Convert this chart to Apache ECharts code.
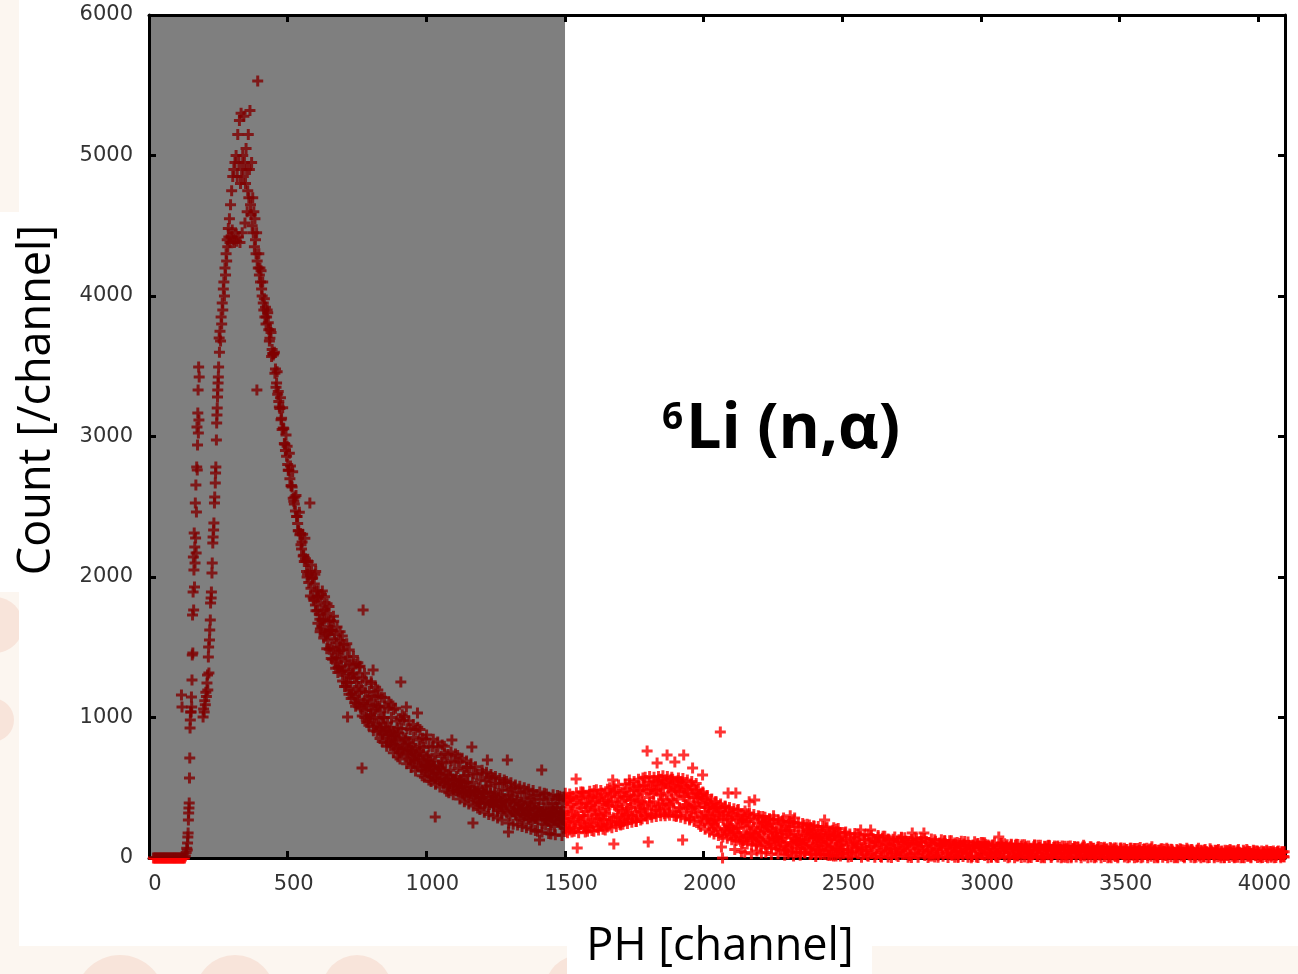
<!DOCTYPE html>
<html>
<head>
<meta charset="utf-8">
<script src="https://cdn.jsdelivr.net/npm/echarts@6/dist/echarts.min.js"></script>
<style>
html,body{margin:0;padding:0;background:#fff;}
#chart{width:1298px;height:974px;}
</style>
</head>
<body>
<div id="chart"></div>
<script>
// ---- axis ranges / ticks ----
const xRange = [0, 4096];
const yRange = [0, 6000];
const xTickStep = 500;
const yTickStep = 1000;
const shadeRange = [0, 1500];   // shaded (gray) channel range

// ---- low channel region: explicit [channel, count] pairs ----
const lowRegion = [
  [16,0],[20,0],[24,0],[28,0],[32,0],[36,0],[40,0],[44,0],[48,0],[52,0],[56,0],[60,0],[64,0],[68,0],[72,0],
  [76,0],[80,0],[84,0],[88,0],[92,0],[96,0],[100,0],[104,0],[108,0],[112,0],[116,0],[120,0],[124,0],[128,0],
  [117,1160],[119,1075],
  [131,15],[134,40],[136,70],[138,57],[139,107],[140,150],[141,178],[142,270],[143,320],[144,356],[145,391],
  [146,569],[147,712],[148,925],[149,982],[150,1039],
  [152,1039],[153,1146],[154,1075],[155,1267],[156,1445],[157,1730],[158,1459],[159,1893],[160,2142],[161,1765],
  [162,2050],[163,2313],[164,1929],[165,2213],[166,2100],[167,2527],[168,2277],[169,2655],[170,2171],[171,2463],
  [172,2783],[173,3068],[174,2762],[175,2940],[176,3167],[177,3331],[178,3025],[179,3495],[180,3117],[181,3423],
  [195,1003],[197,1060],[199,1039],[201,1120],[203,1090],[205,1180],[207,1150],[209,1246],[211,1303],[212,1196],
  [214,1431],[215,1502],[216,1317],[218,1552],[219,1623],[221,1694],[222,1815],[224,1851],[225,1893],[227,2028],
  [228,2100],[230,2242],[231,2285],[233,2335],[234,2384],[236,2527],[237,2569],[239,2669],[240,2740],[241,2783],
  [243,2975],[244,3096],[245,3153],[246,3203],[247,3281],[248,3331],[249,3381],[250,3423],[251,3495],[253,3701],
  [389,3331]
];

// ---- main peak: channels 254..418, every 2nd channel ----
const peakStart = 254, peakStep = 2;
const peakCounts = [
  3600,3750,3680,3850,3800,3950,3900,4050,4100,4000,
  4200,4150,4300,4250,4400,4350,4480,4420,4550,4380,
  4650,4420,4750,4470,4850,4400,4900,4380,4950,4450,
  5000,4390,4850,5150,4420,4950,5250,4380,4800,5300,
  4900,4450,5000,4850,5280,4950,4520,4800,5050,4900,
  4600,4750,5150,4700,4900,5320,4650,4580,4950,4500,
  4700,4450,4600,4350,4550,4400,4300,4450,4250,5530,
  4200,4300,4150,4200,4100,4180,4050,4000,4100,3950,
  3900,3980,3850
];

// ---- decay: channels 420..1496 (every 4th) ----
const decayStart = 420, decayStep = 4;
const decayCounts = [
  3920,3850,3880,3760,3700,3740,3620,3580,3600,3480,
  3380,3300,3250,3200,3120,3050,3060,2950,2900,2860,
  2800,2760,2700,2650,2640,2560,2520,2470,2430,2380,
  2330,2300,2230,2250,2150,2110,2130,2040,2020,1960,
  2527,1920,1990,1850,1950,1800,1900,1760,1860,1700,
  1820,1650,1760,1700,1600,1740,1550,1680,1620,1500,
  1620,1480,1560,1400,1530,1460,1350,1500,1420,1330,
  1480,1300,1400,1250,1003,1330,1380,1200,1310,1180,
  1280,1150,1250,1100,1220,1180,1060,640,1765,1120,
  1180,1050,1130,990,1100,1020,1150,1338,1000,1060,
  950,1080,990,920,1040,960,880,1000,930,870,
  960,880,820,930,860,900,800,870,840,780,
  890,820,1253,760,860,800,840,1075,740,820,
  790,720,810,760,690,780,730,1032,700,760,
  700,650,740,680,620,720,660,700,610,680,
  640,600,690,292,620,560,660,600,640,570,
  620,540,600,560,510,590,530,580,840,520,
  560,500,580,520,470,550,490,540,460,530,
  500,470,540,450,510,480,790,249,430,490,
  460,420,500,440,390,480,430,460,400,470,
  697,420,380,460,410,440,370,450,400,360,
  430,390,450,370,410,340,420,380,697,185,
  400,350,420,330,390,360,300,410,340,380,
  320,390,350,300,370,330,400,310,350,290,
  370,320,350,280,340,300,360,128,330,626,
  310,350,280,330,300,260,340,290,320,270,
  330,280,310,350,260,300,320,240,310,280
];
// ---- decay: channels 422..1498 (every 4th, interleaved) ----
const decayStartB = 422, decayStepB = 4;
const decayCountsB = [
  3800,3900,3810,3680,3760,3570,3590,3590,3450,3350,
  3460,3320,3210,3275,3130,3205,3055,2945,3010,2930,
  2760,2880,2790,2650,2750,2540,2570,2580,2430,2330,
  2460,2310,2200,2305,2155,2275,2110,2000,2110,2040,
  1865,2085,1995,1835,2020,1760,1855,1900,1735,1630,
  1875,1690,1565,1770,1585,1810,1610,1485,1690,1625,
  1415,1685,1590,1425,1645,1360,1475,1550,1365,1260,
  1520,1340,1220,1430,1250,1480,1285,1165,1375,1315,
  1105,1380,1290,1130,1360,1075,1200,1280,1100,1000,
  1260,1085,970,1185,1010,1240,1050,935,1150,1095,
  900,1160,1080,930,1145,885,1000,1075,910,820,
  1065,905,800,1000,840,1055,880,775,975,925,
  750,990,920,780,980,740,850,920,770,690,
  915,765,670,857,708,910,748,651,840,795,
  630,852,786,661,847,626,728,795,657,580,
  791,654,564,739,601,788,638,549,723,681,
  525,740,677,558,737,526,624,690,558,485,
  683,558,476,637,511,683,546,465,625,588,
  440,645,586,472,644,442,537,599,474,405,
  598,474,393,555,431,603,468,388,549,513,
  365,571,513,400,573,372,468,531,407,338,
  528,404,324,486,362,535,400,320,482,446,
  300,497,443,336,502,311,404,465,347,282,
  464,346,271,426,309,475,347,272,427,393,
  255,444,392,291,449,268,356,415,303,242,
  420,309,237,386,274,433,311,240,388,357,
  225,414,363,262,421,240,329,388,277,216
];
// ---- decay: channels 601..1497 (every 8th, odd channels) ----
const decayStartC = 601, decayStepC = 8;
const decayCountsC = [
  2040,1670,1610,1900,1860,1490,1790,1420,1720,1350,
  1320,1610,1580,1220,1525,1165,1135,1435,1080,1390,
  1365,1010,1315,965,945,1255,905,1215,1195,850,
  830,1140,795,1110,1095,750,1065,720,705,1020,
  1005,670,975,645,950,620,930,915,585,575,
  875,555,545,845,525,825,505,805,795,475,
  465,755,450,740,730,420,710,400,690,385,
  670,370,650,355,345,625,325,610,310,595,
  300,580,285,565,270,555,545,250,535,240,
  520,235,510,225,500,215,490,205,480,195,
  190,470,185,460,455,175,170,450,165,445,
  440,160,435
];

// ---- second bump: channels 1500..2496 (every 4th) ----
const bumpStart = 1500, bumpStep = 4;
const bumpCounts = [
  330,250,410,290,200,380,310,440,260,350,
  562,71,300,420,240,360,470,280,330,210,
  390,300,450,250,340,400,190,360,310,430,
  280,380,230,460,330,270,410,350,220,390,
  300,440,260,555,100,370,480,290,350,420,
  250,400,330,470,290,380,440,310,555,360,
  420,300,480,370,260,450,390,510,330,400,
  460,350,520,300,762,114,430,490,370,540,
  400,480,340,676,520,380,460,560,420,500,
  350,540,733,450,380,520,470,560,400,683,
  490,420,550,360,470,520,128,733,440,500,
  380,460,400,520,350,640,430,370,480,320,
  420,360,450,300,590,390,330,410,280,360,
  300,380,250,340,270,320,220,360,260,300,
  897,78,0,280,200,320,240,462,190,270,
  230,300,180,60,462,210,280,160,250,45,
  270,180,40,150,220,260,400,170,30,140,
  210,413,160,50,190,130,220,35,250,150,
  200,40,230,170,110,210,25,190,300,130,
  180,150,30,120,170,200,140,285,20,110,
  190,30,170,300,150,100,15,285,140,120,
  160,110,20,130,90,170,40,120,190,100,
  150,25,170,80,140,160,10,130,60,150,
  120,170,30,140,270,90,130,20,160,70,
  140,100,15,160,80,130,30,150,60,120
];
// ---- second bump: channels 1502..2498 (every 4th, interleaved) ----
const bumpStartB = 1502, bumpStepB = 4;
const bumpCountsB = [
  210,419,364,254,430,232,331,397,276,210,
  413,292,215,380,259,435,303,226,391,358,
  220,429,374,264,440,242,341,407,286,220,
  428,307,230,395,274,450,318,241,406,373,
  240,459,401,286,470,263,367,436,309,240,
  467,341,260,433,306,490,352,272,444,410,
  280,499,441,326,510,303,407,476,349,280,
  516,384,300,480,348,540,396,312,492,456,
  315,543,483,363,555,339,447,519,387,315,
  536,404,320,500,368,560,416,332,512,476,
  305,533,473,353,545,329,437,509,377,305,
  487,361,280,453,326,510,372,292,464,430,
  240,449,394,284,460,262,361,427,306,240,
  380,270,200,350,240,400,280,210,360,330,
  165,355,305,205,365,185,275,335,225,165,
  320,210,140,290,180,340,220,150,300,270,
  125,305,258,163,315,144,230,287,182,125,
  276,172,105,248,143,295,181,115,257,229,
  95,266,221,131,275,113,194,248,149,95,
  242,143,80,215,116,260,152,89,224,197,
  70,241,196,106,250,88,169,223,124,70,
  218,125,65,193,99,235,133,74,201,176,
  55,217,174,89,225,72,149,200,106,55,
  196,108,52,172,84,212,116,60,180,156,
  45,197,157,77,205,61,133,181,93,45
];
// ---- second bump: channels 1501..2493 (every 8th, odd channels) ----
const bumpStartC = 1501, bumpStepC = 8;
const bumpCountsC = [
  460,180,455,185,190,465,180,470,465,185,
  190,475,195,480,485,200,480,205,200,490,
  500,215,510,225,520,235,240,525,245,530,
  255,545,260,560,270,570,575,280,580,290,
  575,295,580,300,585,300,580,305,575,300,
  295,570,290,565,280,555,270,545,260,530,
  490,225,470,205,445,185,420,170,400,160,
  385,150,370,140,360,130,350,125,345,120,
  105,335,100,320,95,310,90,300,85,295,
  290,75,280,70,275,65,270,60,265,55,
  50,260,45,255,40,250,40,245,35,240,
  235,30,230,30,225,25,225,25,220,20,
  20,215,15,210,15
];

// ---- tail: channels 2500..4090 (every 6th) ----
const tailStart = 2500, tailStep = 6;
const tailCounts = [
  110,60,185,95,30,140,80,120,45,100,
  90,200,55,130,70,20,110,200,85,40,
  120,75,95,10,140,60,100,50,130,85,
  70,115,40,90,130,60,25,105,80,55,
  120,65,178,90,30,100,70,115,50,178,
  85,40,110,60,15,95,120,70,45,100,
  60,105,35,80,95,50,20,90,70,110,
  55,85,30,100,65,40,90,75,10,85,
  60,100,45,80,25,70,95,50,85,35,
  90,60,20,75,150,55,85,40,70,95,
  45,80,30,65,90,15,70,50,95,40,
  75,55,85,25,60,80,45,10,70,90,
  50,30,80,65,90,40,20,75,55,80,
  35,60,85,45,5,70,50,85,30,65,
  75,40,55,20,70,90,45,60,30,80,
  50,70,15,60,80,35,55,70,25,65,
  45,75,30,60,10,55,40,70,35,50,
  20,60,45,70,35,55,65,5,50,75,
  40,60,25,70,50,30,80,45,60,15,
  55,35,65,45,20,70,50,30,60,40,
  25,60,45,65,35,10,55,70,30,50,
  60,40,20,55,70,35,50,10,60,45,
  30,65,45,25,55,40,60,15,50,35,
  55,20,45,60,30,50,5,40,60,35,
  25,55,40,60,15,45,30,55,20,50,
  35,10,50,40,25,55,30,45,15,50,
  40,20,50,30,45,10
];
// ---- tail: channels 2503..4093 (every 6th, interleaved) ----
const tailStartB = 2503, tailStepB = 6;
const tailCountsB = [
  30,163,128,58,170,44,107,149,72,30,
  151,74,25,130,53,165,81,32,137,116,
  25,149,116,51,155,38,97,136,64,25,
  133,64,21,114,46,145,71,27,120,102,
  17,131,101,41,137,29,83,119,53,17,
  118,55,14,101,37,130,60,20,107,89,
  12,117,89,34,122,23,73,106,45,12,
  104,46,10,88,31,114,52,15,93,78,
  8,103,78,28,108,18,63,93,38,8,
  93,41,7,79,26,103,45,12,84,69,
  7,93,70,25,97,16,57,84,34,7,
  83,36,7,70,24,91,41,11,74,62,
  7,83,63,23,87,15,51,75,31,7,
  75,34,7,64,22,83,37,11,68,56,
  7,75,57,21,79,14,47,68,29,7,
  68,31,7,58,21,75,34,10,61,51,
  7,68,52,20,71,13,42,61,26,7,
  61,28,7,52,19,67,31,10,55,46,
  7,60,46,18,63,13,38,55,24,7,
  55,25,6,47,17,60,28,9,49,41,
  5,54,41,15,57,10,34,49,21,5,
  50,23,5,43,15,55,25,8,45,38,
  4,50,38,14,52,9,30,45,18,4,
  45,20,4,39,13,50,22,6,41,34,
  3,45,34,12,47,7,27,40,16,3,
  41,18,3,35,11,45,20,5,37,30,
  3,41,31,11,43,7
];
// ---- tail: channels 2509..4093 (every 12th) ----
const tailStartC = 2509, tailStepC = 12;
const tailCountsC = [
  180,8,10,175,170,5,165,12,160,6,
  160,5,155,8,4,150,10,148,145,5,
  4,145,6,140,138,3,135,8,5,130,
  125,4,122,6,3,120,118,5,2,115,
  3,110,108,2,5,106,3,104,102,2,
  98,2,96,4,94,2,3,92,90,2,
  2,88,3,86,85,2,84,1,2,82,
  80,1,79,2,78,1,77,2,76,1,
  2,72,1,71,70,2,69,1,68,2,
  66,1,65,2,1,64,63,1,62,2,
  1,60,2,59,58,1,57,2,56,1,
  55,1,54,2,1,53,52,1,51,2,
  1,50,2,49,48,1,47,2,46,1,
  45,1,44
];

// ---- build [channel, count] points ----
function toPoints(start, step, counts) {
  return counts.map((c, i) => [start + step * i, c]);
}
const points = lowRegion.concat(
  toPoints(peakStart, peakStep, peakCounts),
  toPoints(decayStart, decayStep, decayCounts),
  toPoints(decayStartB, decayStepB, decayCountsB),
  toPoints(decayStartC, decayStepC, decayCountsC),
  toPoints(bumpStart, bumpStep, bumpCounts),
  toPoints(bumpStartB, bumpStepB, bumpCountsB),
  toPoints(bumpStartC, bumpStepC, bumpCountsC),
  toPoints(tailStart, tailStep, tailCounts),
  toPoints(tailStartB, tailStepB, tailCountsB),
  toPoints(tailStartC, tailStepC, tailCountsC)
);

const plusPath = 'path://M4,0H7V4H11V7H7V11H4V7H0V4H4Z';
const axisLine = { show: true, onZero: false, lineStyle: { color: '#000', width: 3 } };
const axisTick = { show: true, inside: true, length: 7, lineStyle: { color: '#000', width: 3 } };
const tickFont = { fontFamily: 'DejaVu Sans', fontSize: 21, color: '#333', formatter: v => String(v) };

const chart = echarts.init(document.getElementById('chart'), null, { renderer: 'canvas' });
chart.setOption({
  animation: false,
  backgroundColor: 'transparent',
  grid: { left: 149, right: 13, top: 15, bottom: 116 },
  xAxis: [
    { type: 'value', min: xRange[0], max: xRange[1], interval: xTickStep, position: 'bottom',
      axisLine, axisTick, splitLine: { show: false },
      axisLabel: Object.assign({ showMaxLabel: false, margin: 16, padding: [0, 0, 0, 12] }, tickFont) },
    { type: 'value', min: xRange[0], max: xRange[1], interval: xTickStep, position: 'top',
      axisLine, axisTick, splitLine: { show: false }, axisLabel: { show: false } }
  ],
  yAxis: [
    { type: 'value', min: yRange[0], max: yRange[1], interval: yTickStep, position: 'left',
      axisLine, axisTick, splitLine: { show: false },
      axisLabel: Object.assign({ margin: 16 }, tickFont) },
    { type: 'value', min: yRange[0], max: yRange[1], interval: yTickStep, position: 'right',
      axisLine, axisTick, splitLine: { show: false }, axisLabel: { show: false } }
  ],
  series: [
    { type: 'scatter', data: points, symbol: plusPath, symbolSize: 11,
      itemStyle: { color: '#ff0000' }, z: 2, silent: true, progressive: 0, large: false },
    { type: 'custom', data: [shadeRange], z: 3, silent: true,
      renderItem: function (params, api) {
        const p0 = api.coord([api.value(0), yRange[1]]);
        const p1 = api.coord([api.value(1), yRange[0]]);
        return { type: 'rect',
          shape: { x: p0[0], y: p0[1], width: p1[0] - p0[0], height: p1[1] - p0[1] },
          style: { fill: 'rgba(0,0,0,0.5)' } };
      } }
  ],
  graphic: [
    { type: 'rect', z: -20, shape: { x: 0, y: 0, width: 1298, height: 974 }, style: { fill: '#FCF6F0' } },
    { type: 'circle', z: -19, shape: { cx: -5, cy: 625, r: 28 }, style: { fill: '#F8E4DA' } },
    { type: 'circle', z: -19, shape: { cx: -8, cy: 720, r: 22 }, style: { fill: '#F8E4DA' } },
    { type: 'circle', z: -19, shape: { cx: 120, cy: 1000, r: 45 }, style: { fill: '#F8E4DA' } },
    { type: 'circle', z: -19, shape: { cx: 235, cy: 995, r: 40 }, style: { fill: '#F8E4DA' } },
    { type: 'circle', z: -19, shape: { cx: 357, cy: 990, r: 35 }, style: { fill: '#F8E4DA' } },
    { type: 'circle', z: -19, shape: { cx: 580, cy: 990, r: 35 }, style: { fill: '#F8E4DA' } },
    { type: 'rect', z: -18, shape: { x: 19, y: 0, width: 1279, height: 946 }, style: { fill: '#ffffff' } },
    { type: 'rect', z: -18, shape: { x: 0, y: 212, width: 62, height: 380 }, style: { fill: '#ffffff' } },
    { type: 'rect', z: -18, shape: { x: 567, y: 920, width: 305, height: 54 }, style: { fill: '#ffffff' } },
    { type: 'text', z: 10, x: 37, y: 400, rotation: Math.PI / 2,
      style: { text: 'Count [/channel]', x: 0, y: 0, align: 'center', verticalAlign: 'middle',
               fontFamily: 'Open Sans', fontSize: 45, fill: '#000' } },
    { type: 'text', z: 10, x: 720, y: 947,
      style: { text: 'PH [channel]', x: 0, y: 0, align: 'center', verticalAlign: 'middle',
               fontFamily: 'Open Sans', fontSize: 45, fill: '#000' } },
    { type: 'text', z: 10, x: 662, y: 400,
      style: { text: '6', align: 'left', verticalAlign: 'top',
               fontFamily: 'Open Sans', fontWeight: 'bold', fontSize: 37, fill: '#000' } },
    { type: 'text', z: 10, x: 686, y: 399,
      style: { text: 'Li (n,α)', align: 'left', verticalAlign: 'top',
               fontFamily: 'Open Sans', fontWeight: 'bold', fontSize: 63, fill: '#000' } }
  ]
});
</script>
</body>
</html>
